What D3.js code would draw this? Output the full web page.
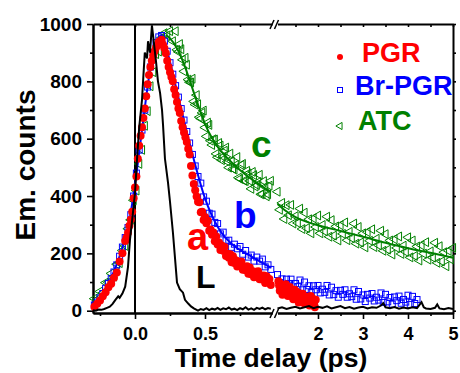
<!DOCTYPE html>
<html>
<head>
<meta charset="utf-8">
<script src="https://cdn.jsdelivr.net/npm/d3@7"></script>
<style>
  body { margin: 0; background: #fff; }
  svg { display: block; font-family: 'Liberation Sans', Arial, sans-serif; font-weight: bold; }
</style>
</head>
<body>
<svg width="460" height="373"></svg>
<script>
// ---- data (time in ps, emission counts) ----
let pgrLeft = [[-0.29,14],[-0.27,24],[-0.25,36],[-0.23,50],[-0.21,64],[-0.19,82],[-0.17,94],[-0.15,115],[-0.13,133],[-0.11,172],[-0.09,200],[-0.07,243],
  [-0.06,255],[-0.05,272],[-0.04,296],[-0.03,318],[-0.02,345],[-0.01,392],[0.00,430],[0.01,468],[0.02,530],[0.03,575],[0.04,610],[0.05,640],[0.06,672],[0.07,705],
  [0.08,748],[0.09,790],[0.10,822],[0.11,850],[0.12,872],[0.13,890],[0.14,905],[0.15,918],[0.16,926],[0.17,938],[0.18,930],[0.19,945],[0.20,928],[0.21,915],
  [0.22,898],[0.23,872],[0.24,850],[0.25,832],[0.26,815],[0.27,800],[0.28,772],[0.29,752],[0.30,728],[0.31,705],[0.32,690],[0.33,662],[0.34,640],[0.35,622],
  [0.36,605],[0.37,588],[0.38,565],[0.39,545],[0.40,505],[0.41,472],[0.42,442],[0.43,420],[0.44,398],[0.45,380],
  [0.46,378],[0.47,343],[0.48,345],[0.49,316],[0.50,327],[0.51,305],[0.52,314],[0.53,279],[0.54,283],[0.55,265],[0.56,273],[0.57,242],[0.58,259],[0.59,231],
  [0.60,238],[0.61,212],[0.62,227],[0.63,209],[0.64,222],[0.65,191],[0.66,199],[0.67,185],[0.68,197],[0.69,169],[0.70,190],[0.71,166],[0.72,176],[0.73,154],
  [0.74,172],[0.75,157],[0.76,172],[0.77,143],[0.78,153],[0.79,141],[0.80,155],[0.81,129],[0.82,151],[0.83,127],[0.84,138],[0.85,117],[0.86,136],[0.87,123],
  [0.88,138],[0.89,110],[0.90,120],[0.91,109],[0.92,123],[0.93,97],[0.94,120],[0.95,99],[0.96,111],[0.97,90]];
let pgrRight = [[1.12,103],[1.135,88],[1.15,70],[1.165,94],[1.18,85],[1.195,72],[1.21,56],[1.225,90],[1.24,83],[1.255,60],[1.27,67],[1.285,92],[1.30,84],
  [1.315,62],[1.33,51],[1.345,79],[1.36,66],[1.375,83],[1.39,52],[1.405,64],[1.42,72],[1.435,55],[1.45,40],[1.465,68],[1.48,73],[1.495,50],[1.51,41],
  [1.525,66],[1.54,57],[1.555,44],[1.57,29],[1.585,61],[1.60,57],[1.615,36],[1.63,41],[1.645,52],[1.66,59],[1.675,33],[1.69,26],[1.705,48],[1.72,43],
  [1.735,24],[1.75,29],[1.765,45],[1.78,49],[1.795,30],[1.81,18],[1.825,40],[1.84,51],[1.855,27],[1.87,20],[1.885,42],[1.90,36],[1.915,22],[1.93,12],[1.95,38]];

let brLeft = [[-0.29,20],[-0.27,30],[-0.25,45],[-0.23,60],[-0.21,78],[-0.19,95],[-0.17,112],[-0.15,135],[-0.13,160],[-0.11,190],[-0.09,222],[-0.07,255],
  [-0.05,290],[-0.03,335],[-0.01,400],[0.01,480],[0.03,560],[0.05,630],[0.07,700],[0.09,780],[0.11,850],[0.13,900],[0.15,935],[0.17,955],[0.19,960],[0.21,940],
  [0.23,905],[0.25,865],[0.27,825],[0.29,785],[0.31,745],[0.33,705],[0.35,665],[0.37,625],[0.39,585],[0.41,545],[0.43,505],[0.45,468],
  [0.47,445],[0.49,397],[0.51,382],[0.53,340],[0.55,337],[0.57,308],[0.59,304],[0.61,268],[0.63,274],[0.65,244],[0.67,246],[0.69,221],[0.71,232],[0.73,216],
  [0.75,224],[0.77,197],[0.79,210],[0.81,187],[0.83,194],[0.85,173],[0.87,187],[0.89,173],[0.91,180],[0.93,153],[0.95,160],[0.97,144]];
let brRight = [[1.10,126],[1.15,98],[1.20,111],[1.25,87],[1.30,110],[1.35,95],[1.40,110],[1.45,83],[1.50,95],[1.55,84],[1.60,107],[1.65,73],[1.70,100],[1.75,74],
  [1.80,87],[1.85,63],[1.90,87],[1.95,73],[2.00,88],[2.05,62],[2.10,75],[2.15,64],[2.20,88],[2.25,55],[2.30,82],[2.35,56],[2.40,70],[2.45,47],[2.50,71],[2.55,57],
  [2.60,73],[2.65,47],[2.70,59],[2.75,49],[2.80,73],[2.85,40],[2.90,67],[2.95,41],[3.00,55],[3.05,32],[3.10,57],[3.15,44],[3.20,60],[3.25,34],[3.30,47],[3.35,37],
  [3.40,62],[3.45,29],[3.50,57],[3.55,31],[3.60,46],[3.65,23],[3.70,48],[3.75,35],[3.80,51],[3.85,26],[3.90,39],[3.95,30],[4.00,54],[4.05,22],[4.10,50],[4.15,25],[4.20,39]];
let brFit = [[-0.3,15],[-0.2,85],[-0.1,205],[-0.05,290],[0,440],[0.05,630],[0.1,815],[0.15,935],[0.19,960],[0.23,905],[0.3,765],[0.4,565],[0.5,392],
  [0.6,285],[0.7,229],[0.8,198],[0.97,150]];

let atcLeft = [[-0.29,42],[-0.27,39],[-0.25,67],[-0.23,62],[-0.21,98],[-0.19,99],[-0.17,130],[-0.15,119],[-0.13,162],[-0.11,166],[-0.09,210],[-0.07,226],
  [-0.05,286],[-0.03,317],[-0.01,385],[0.01,419],[0.03,512],[0.05,561],[0.07,645],[0.09,696],[0.11,783],[0.13,832],[0.15,895],[0.17,904],[0.19,952],[0.21,968],
  [0.23,960],[0.25,975],[0.27,940],[0.29,975],[0.31,903],[0.33,912],[0.35,835],[0.37,858],[0.39,797],[0.41,809],[0.43,719],[0.45,720],[0.47,670],[0.49,698],
  [0.51,608],[0.53,648],[0.55,578],[0.57,597],[0.59,535],[0.61,576],[0.63,537],[0.65,569],[0.67,499],[0.69,521],[0.71,492],[0.73,536],[0.75,460],[0.77,512],
  [0.79,452],[0.81,479],[0.83,425],[0.85,473],[0.87,438],[0.89,474],[0.91,407],[0.93,432],[0.95,406],[0.97,453],
  [0.30,910],[0.32,930],[0.34,875],[0.36,882],[0.38,806],[0.40,796],[0.42,730],[0.44,752],[0.46,675],[0.48,690],[0.50,639],[0.52,656],[0.54,593],[0.56,598],
  [0.58,547],[0.60,585],[0.62,525],[0.64,558],[0.66,520],[0.68,548],[0.70,495],[0.72,508],[0.74,464],[0.76,508],[0.78,453],[0.80,488],[0.82,453],[0.84,484],
  [0.86,433],[0.88,449],[0.90,406],[0.92,452],[0.94,399],[0.96,436]];
let atcRight = [[1.10,415],[1.15,352],[1.20,376],[1.25,320],[1.30,368],[1.35,333],[1.40,369],[1.45,304],[1.50,330],[1.55,306],[1.60,356],[1.65,285],[1.70,342],
  [1.75,288],[1.80,319],[1.85,270],[1.90,322],[1.95,292],[2.00,332],[2.05,270],[2.10,299],[2.15,277],[2.20,328],[2.25,258],[2.30,316],[2.35,262],[2.40,294],
  [2.45,245],[2.50,298],[2.55,268],[2.60,308],[2.65,246],[2.70,275],[2.75,253],[2.80,304],[2.85,234],[2.90,292],[2.95,238],[3.00,270],[3.05,221],[3.10,274],
  [3.15,244],[3.20,284],[3.25,222],[3.30,251],[3.35,228],[3.40,279],[3.45,209],[3.50,267],[3.55,213],[3.60,245],[3.65,196],[3.70,249],[3.75,219],[3.80,259],
  [3.85,198],[3.90,227],[3.95,205],[4.00,256],[4.05,186],[4.10,245],[4.15,191],[4.20,224],[4.25,175],[4.30,228],[4.35,199],[4.40,239],[4.45,178],[4.50,207],
  [4.55,185],[4.60,237],[4.65,167],[4.70,225],[4.75,172],[4.80,204],[4.85,155],[4.90,209],[4.95,179],[5.00,219]];
let atcFitLeft = [[0.22,962],[0.25,950],[0.3,915],[0.35,860],[0.4,790],[0.45,718],[0.5,652],[0.55,602],[0.6,565],[0.65,537],[0.7,513],[0.75,491],[0.8,471],
  [0.85,453],[0.9,436],[0.97,414]];
let atcFitRight = [[1.1,372],[1.25,352],[1.5,326],[1.75,310],[2,298],[2.5,278],[3,258],[3.5,237],[4,218],[4.5,202],[5,185]];

let laserLeft = [[-0.30,2],[-0.28,0],[-0.26,4],[-0.24,3],[-0.22,6],[-0.20,10],[-0.18,14],[-0.16,24],[-0.14,38],[-0.12,50],[-0.11,45],[-0.09,60],[-0.07,84],
  [-0.05,153],[-0.036,247],[-0.02,317],[0.0,411],[0.014,526],[0.03,640],[0.05,735],[0.06,820],[0.07,900],[0.086,880],[0.093,940],[0.107,900],[0.121,995],
  [0.136,930],[0.15,870],[0.164,800],[0.179,760],[0.193,700],[0.2,650],[0.214,530],[0.236,446],[0.25,380],[0.271,272],[0.3,98],[0.32,75],[0.343,63],
  [0.357,38],[0.38,25],[0.4,15],[0.42,8],[0.45,0],[0.47,6],[0.49,3],[0.51,9],[0.53,2],[0.55,7],[0.57,4],[0.59,10],[0.61,3],[0.63,8],[0.65,5],[0.67,11],
  [0.69,4],[0.71,7],[0.73,2],[0.75,9],[0.77,5],[0.79,12],[0.81,4],[0.83,8],[0.85,3],[0.87,10],[0.89,6],[0.91,11],[0.93,5],[0.95,9],[0.97,7]];
let laserRight = [[1.10,8],[1.2,12],[1.3,6],[1.4,10],[1.5,14],[1.6,8],[1.7,12],[1.8,16],[1.9,9],[2.0,14],[2.1,10],[2.2,15],[2.3,8],[2.4,12],[2.5,16],
  [2.6,9],[2.7,13],[2.8,7],[2.9,11],[3.0,14],[3.1,8],[3.2,12],[3.3,10],[3.4,18],[3.45,26],[3.5,12],[3.6,9],[3.7,13],[3.8,7],[3.9,11],[4.0,8],[4.1,12],
  [4.2,9],[4.3,30],[4.35,12],[4.4,8],[4.5,6],[4.6,10],[4.65,22],[4.7,8],[4.8,5],[4.9,9],[5.0,6]];

let xMajorLeft = [0, 0.5];
let xMinorLeft = [-0.25, 0.25, 0.75];
let xMajorRight = [2, 3, 4, 5];
let xMinorRight = [1.5, 2.5, 3.5, 4.5];
let yMajor = [0, 200, 400, 600, 800, 1000];
let yMinor = [100, 300, 500, 700, 900];
let legendNames = ['PGR', 'Br-PGR', 'ATC'];

let red = '#ff0000', blue = '#0000ff', green = '#008000';

let svg = d3.select('svg');

// broken x axis: two linear pieces
let xL = d3.scaleLinear().domain([-0.3, 0.98]).range([93, 272.2]);
let xR = d3.scaleLinear().domain([1.1, 5]).range([277.5, 453]);
let y = d3.scaleLinear().domain([-8, 1000]).range([313, 24]);
let yTop = y(1000), yBottom = y(-8);

function styleAxis(g) {
  g.selectAll('path.domain').attr('stroke', '#000').attr('stroke-width', 2);
  g.selectAll('.tick line').attr('stroke', '#000').attr('stroke-width', 1.6);
  g.selectAll('text').attr('font-size', 18).attr('font-weight', 'bold')
    .attr('font-family', "'Liberation Sans', Arial, sans-serif").attr('fill', '#000');
}

// y axes
let yAxisG = svg.append('g').attr('transform', 'translate(93,0)');
yAxisG.append('g').call(d3.axisLeft(y).tickValues(yMinor).tickSize(3).tickSizeOuter(0).tickFormat('')).call(styleAxis);
yAxisG.append('g').call(d3.axisLeft(y).tickValues(yMajor).tickSize(6).tickSizeOuter(0).tickPadding(5).tickFormat(d3.format('d'))).call(styleAxis);
yAxisG.selectAll('text').attr('font-size', 19);

svg.append('g').attr('transform', 'translate(453,0)')
  .call(d3.axisRight(y).tickValues(yMajor.concat(yMinor)).tickSize(3).tickSizeOuter(0).tickFormat('')).call(styleAxis);

// bottom and top axes, each in two pieces
[[xL, xMajorLeft, xMinorLeft, d3.format('.1f')], [xR, xMajorRight, xMinorRight, d3.format('d')]].forEach(function(p) {
  let sc = p[0];
  let gb = svg.append('g').attr('transform', 'translate(0,' + yBottom + ')');
  gb.append('g').call(d3.axisBottom(sc).tickValues(p[2]).tickSize(3).tickSizeOuter(0).tickFormat('')).call(styleAxis);
  gb.append('g').call(d3.axisBottom(sc).tickValues(p[1]).tickSize(6).tickSizeOuter(0).tickPadding(8).tickFormat(p[3])).call(styleAxis);
  svg.append('g').attr('transform', 'translate(0,' + yTop + ')')
    .call(d3.axisBottom(sc).tickValues(p[1].concat(p[2])).tickSize(3).tickSizeOuter(0).tickFormat('')).call(styleAxis);
});

// break marks
[yTop, yBottom].forEach(function(yy) {
  [272.5, 277].forEach(function(xb) {
    svg.append('line')
      .attr('x1', xb - 2.5).attr('y1', yy + 5)
      .attr('x2', xb + 1.5).attr('y2', yy - 4)
      .attr('stroke', '#000').attr('stroke-width', 1.5);
  });
});

// time zero line
svg.append('line')
  .attr('x1', xL(0)).attr('x2', xL(0))
  .attr('y1', yTop).attr('y2', yBottom)
  .attr('stroke', '#000').attr('stroke-width', 2);

let plot = svg.append('g');

function lineFor(sc) {
  return d3.line().x(function(d) { return sc(d[0]); }).y(function(d) { return y(d[1]); });
}
function smoothFor(sc) {
  return d3.line().curve(d3.curveMonotoneX).x(function(d) { return sc(d[0]); }).y(function(d) { return y(d[1]); });
}

// ATC - open left triangles
let tri = d3.symbol().type(d3.symbolTriangle).size(34)();
[[atcLeft, xL], [atcRight, xR]].forEach(function(p) {
  plot.append('g').selectAll('path')
    .data(p[0])
    .enter().append('path')
    .attr('d', tri)
    .attr('transform', function(d) { return 'translate(' + p[1](d[0]) + ',' + y(d[1]) + ')rotate(-90)'; })
    .attr('fill', 'none')
    .attr('stroke', green)
    .attr('stroke-width', 1);
});
plot.append('path').datum(atcFitLeft).attr('d', smoothFor(xL)).attr('fill', 'none').attr('stroke', green).attr('stroke-width', 2);
plot.append('path').datum(atcFitRight).attr('d', smoothFor(xR)).attr('fill', 'none').attr('stroke', green).attr('stroke-width', 2);

// Br-PGR - open squares
plot.append('path').datum(brFit).attr('d', smoothFor(xL)).attr('fill', 'none').attr('stroke', blue).attr('stroke-width', 2);
[[brLeft, xL], [brRight, xR]].forEach(function(p) {
  plot.append('g').selectAll('rect')
    .data(p[0])
    .enter().append('rect')
    .attr('x', function(d) { return p[1](d[0]) - 3; })
    .attr('y', function(d) { return y(d[1]) - 3; })
    .attr('width', 6).attr('height', 6)
    .attr('fill', 'none')
    .attr('stroke', blue)
    .attr('stroke-width', 1);
});

// PGR - filled circles
[[pgrLeft, xL], [pgrRight, xR]].forEach(function(p) {
  plot.append('g').selectAll('circle')
    .data(p[0])
    .enter().append('circle')
    .attr('cx', function(d) { return p[1](d[0]); })
    .attr('cy', function(d) { return y(d[1]); })
    .attr('r', 4)
    .attr('fill', red);
});

// laser pulse L
plot.append('path').datum(laserLeft).attr('d', lineFor(xL)).attr('fill', 'none').attr('stroke', '#000').attr('stroke-width', 2);
plot.append('path').datum(laserRight).attr('d', lineFor(xR)).attr('fill', 'none').attr('stroke', '#000').attr('stroke-width', 2);

// curve labels
let lab = svg.append('g').attr('font-weight', 'bold');
lab.append('text').attr('x', 187).attr('y', 250).attr('font-size', 38).attr('fill', red).text('a');
lab.append('text').attr('x', 234).attr('y', 228).attr('font-size', 37).attr('fill', blue).text('b');
lab.append('text').attr('x', 251).attr('y', 157).attr('font-size', 37).attr('fill', green).text('c');
lab.append('text').attr('x', 196).attr('y', 288).attr('font-size', 32).attr('fill', '#000').text('L');

// legend
let legColors = [red, blue, green];
let legTextX = [362, 355, 358];
let legBase = [62, 95, 130];
let legend = svg.append('g')
  .selectAll('g')
  .data(legendNames)
  .enter().append('g');
legend.append('text')
  .attr('x', function(d, i) { return legTextX[i]; })
  .attr('y', function(d, i) { return legBase[i]; })
  .attr('font-size', 27)
  .attr('fill', function(d, i) { return legColors[i]; })
  .text(function(d) { return d; });
legend.filter(function(d, i) { return i === 0; }).append('circle')
  .attr('cx', 340).attr('cy', 57).attr('r', 3).attr('fill', red);
legend.filter(function(d, i) { return i === 1; }).append('rect')
  .attr('x', 337.5).attr('y', 87.5).attr('width', 5).attr('height', 5)
  .attr('fill', 'none').attr('stroke', blue).attr('stroke-width', 1);
legend.filter(function(d, i) { return i === 2; }).append('path')
  .attr('d', d3.symbol().type(d3.symbolTriangle).size(22)())
  .attr('transform', 'translate(340,126)rotate(-90)')
  .attr('fill', 'none').attr('stroke', green).attr('stroke-width', 1);

// axis titles
svg.append('text')
  .attr('transform', 'translate(35,165)rotate(-90)')
  .attr('text-anchor', 'middle')
  .attr('font-size', 28)
  .text('Em. counts');
svg.append('text')
  .attr('x', 271).attr('y', 367)
  .attr('text-anchor', 'middle')
  .attr('font-size', 26.5)
  .text('Time delay (ps)');
</script>
</body>
</html>
